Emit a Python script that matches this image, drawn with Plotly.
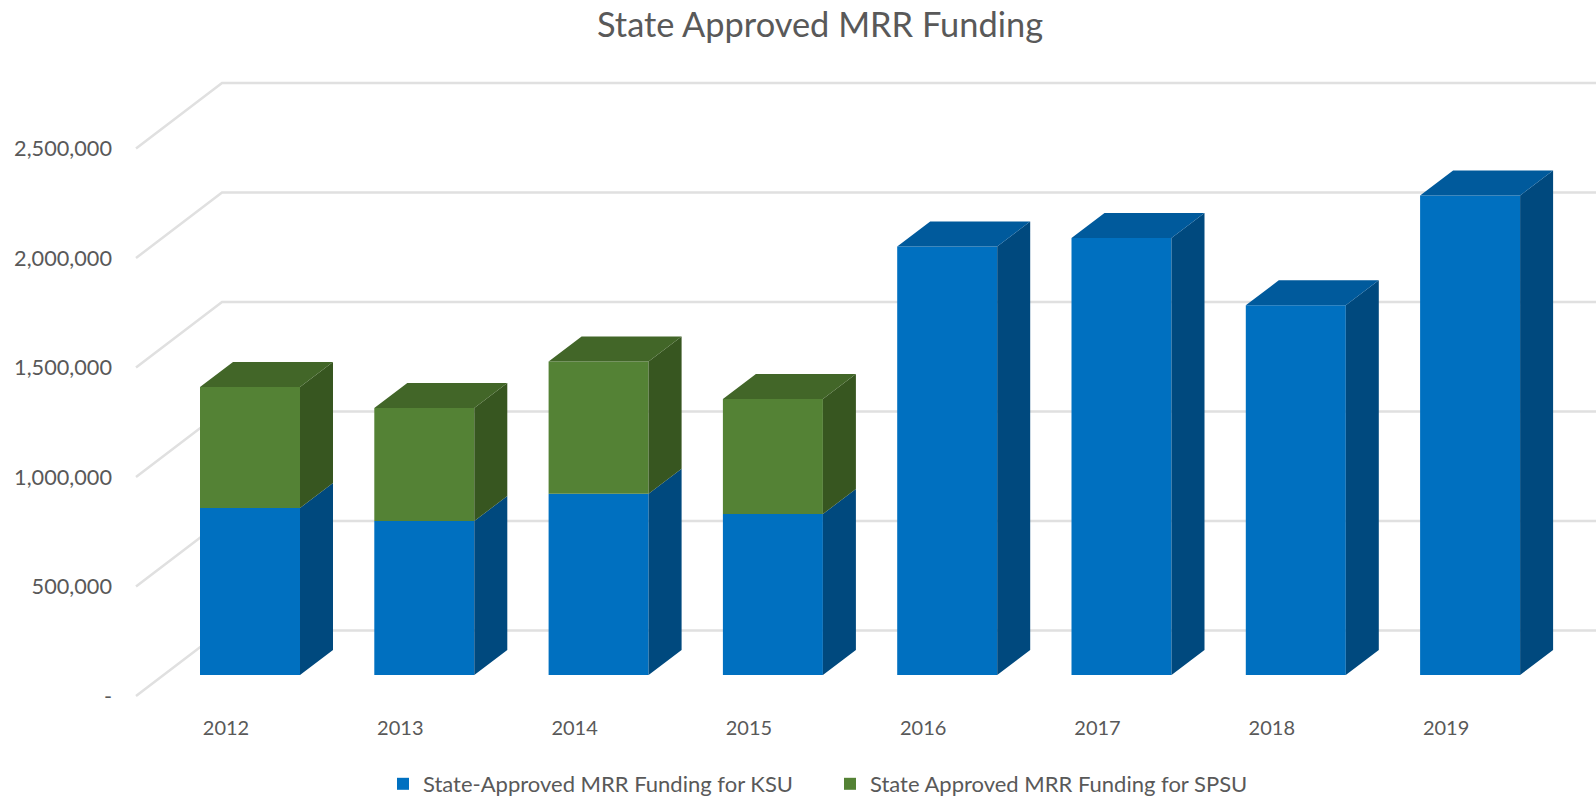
import plotly.graph_objects as go

years = ["2012", "2013", "2014", "2015", "2016", "2017", "2018", "2019"]
ksu = [763000, 703000, 828000, 735000, 1957000, 1995000, 1688000, 2190000]
spsu = [552000, 516000, 604000, 525000, 0, 0, 0, 0]
tick_values = [0, 500000, 1000000, 1500000, 2000000, 2500000]
tick_labels = ["-", "500,000", "1,000,000", "1,500,000", "2,000,000", "2,500,000"]

W, H = 1596, 798
PX_PER_CAT = 174.3
PX_PER_VAL = 109.5 / 500000
X0_PX = 226
Y0_PX = 696


def cat(px):
    return px / PX_PER_CAT


def val(px):
    return px / PX_PER_VAL


FONT = "Lato, 'Open Sans', sans-serif"
TEXT = "#595959"
xr = [-X0_PX / PX_PER_CAT, (W - X0_PX) / PX_PER_CAT]
yr = [(Y0_PX - H) / PX_PER_VAL, Y0_PX / PX_PER_VAL]

bar_off = cat(24)
bar_w = cat(100)
base = val(21)
dx, dy = cat(33), val(25)
wall_dy = val(65.5)
xs = [i + bar_off for i in range(len(years))]


def poly(pts_list):
    X, Y = [], []
    for pts in pts_list:
        X += [p[0] for p in pts] + [pts[0][0], None]
        Y += [p[1] for p in pts] + [pts[0][1], None]
    return X, Y


def face(pts_list, color):
    X, Y = poly(pts_list)
    return go.Scatter(x=X, y=Y, mode="lines", fill="toself", fillcolor=color,
                      line=dict(width=0, color=color), hoverinfo="skip", showlegend=False)


fig = go.Figure()
fig.add_bar(x=xs, y=ksu, base=[base] * len(xs), width=bar_w, name="State-Approved MRR Funding for KSU",
            marker=dict(color="#0070C0", line=dict(width=0)))
fig.add_bar(x=xs, y=spsu, base=[base + k for k in ksu], width=bar_w, name="State Approved MRR Funding for SPSU",
            marker=dict(color="#548235", line=dict(width=0)))

side_b, side_g, top_b, top_g = [], [], [], []
for x, k, s in zip(xs, ksu, spsu):
    r = x + bar_w / 2
    l = x - bar_w / 2
    y1 = base + k
    y2 = y1 + s
    side_b.append([(r, base), (r + dx, base + dy), (r + dx, y1 + dy), (r, y1)])
    if s > 0:
        side_g.append([(r, y1), (r + dx, y1 + dy), (r + dx, y2 + dy), (r, y2)])
        top_g.append([(l, y2), (l + dx, y2 + dy), (r + dx, y2 + dy), (r, y2)])
    else:
        top_b.append([(l, y1), (l + dx, y1 + dy), (r + dx, y1 + dy), (r, y1)])
fig.add_trace(face(side_b, "#00497E"))
fig.add_trace(face(side_g, "#375620"))
fig.add_trace(face(top_b, "#005A9C"))
fig.add_trace(face(top_g, "#426628"))

shapes = []
for v in tick_values:
    shapes.append(dict(type="path", layer="below",
                       path=f"M {xr[0] + cat(136)},{v} L {xr[0] + cat(222)},{v + wall_dy} L {xr[1]},{v + wall_dy}",
                       line=dict(color="#E0E0E0", width=2.5)))

fig.update_layout(
    width=W, height=H, autosize=False,
    margin=dict(l=0, r=0, t=0, b=0, autoexpand=False),
    paper_bgcolor="white", plot_bgcolor="white",
    barmode="overlay", shapes=shapes,
    font=dict(family=FONT, color=TEXT),
    title=dict(text="State Approved MRR Funding", x=820 / W, xanchor="center", xref="paper",
               y=1 - 25 / H, yanchor="middle", yref="container", font=dict(size=34.4, color=TEXT, family=FONT)),
    xaxis=dict(range=xr, domain=[0, 1], tickmode="array", tickvals=list(range(len(years))), ticktext=years,
               showgrid=False, zeroline=False, showline=False, ticks="", anchor="free",
               position=1 - 714 / H, tickfont=dict(size=20, color=TEXT, family=FONT)),
    yaxis=dict(range=yr, domain=[0, 1], tickmode="array", tickvals=tick_values, ticktext=tick_labels,
               showgrid=False, zeroline=False, showline=False, ticks="", anchor="free",
               position=112 / W, tickfont=dict(size=21.7, color=TEXT, family=FONT)),
    legend=dict(orientation="h", x=383 / W, xanchor="left", y=1 - 784 / H, yanchor="middle",
                entrywidth=402, entrywidthmode="pixels", font=dict(size=22, color=TEXT, family=FONT),
                bgcolor="rgba(0,0,0,0)", traceorder="normal"),
)
fig.write_html("out.html", config={"displayModeBar": False},
               post_script="document.body.style.margin='0';")
